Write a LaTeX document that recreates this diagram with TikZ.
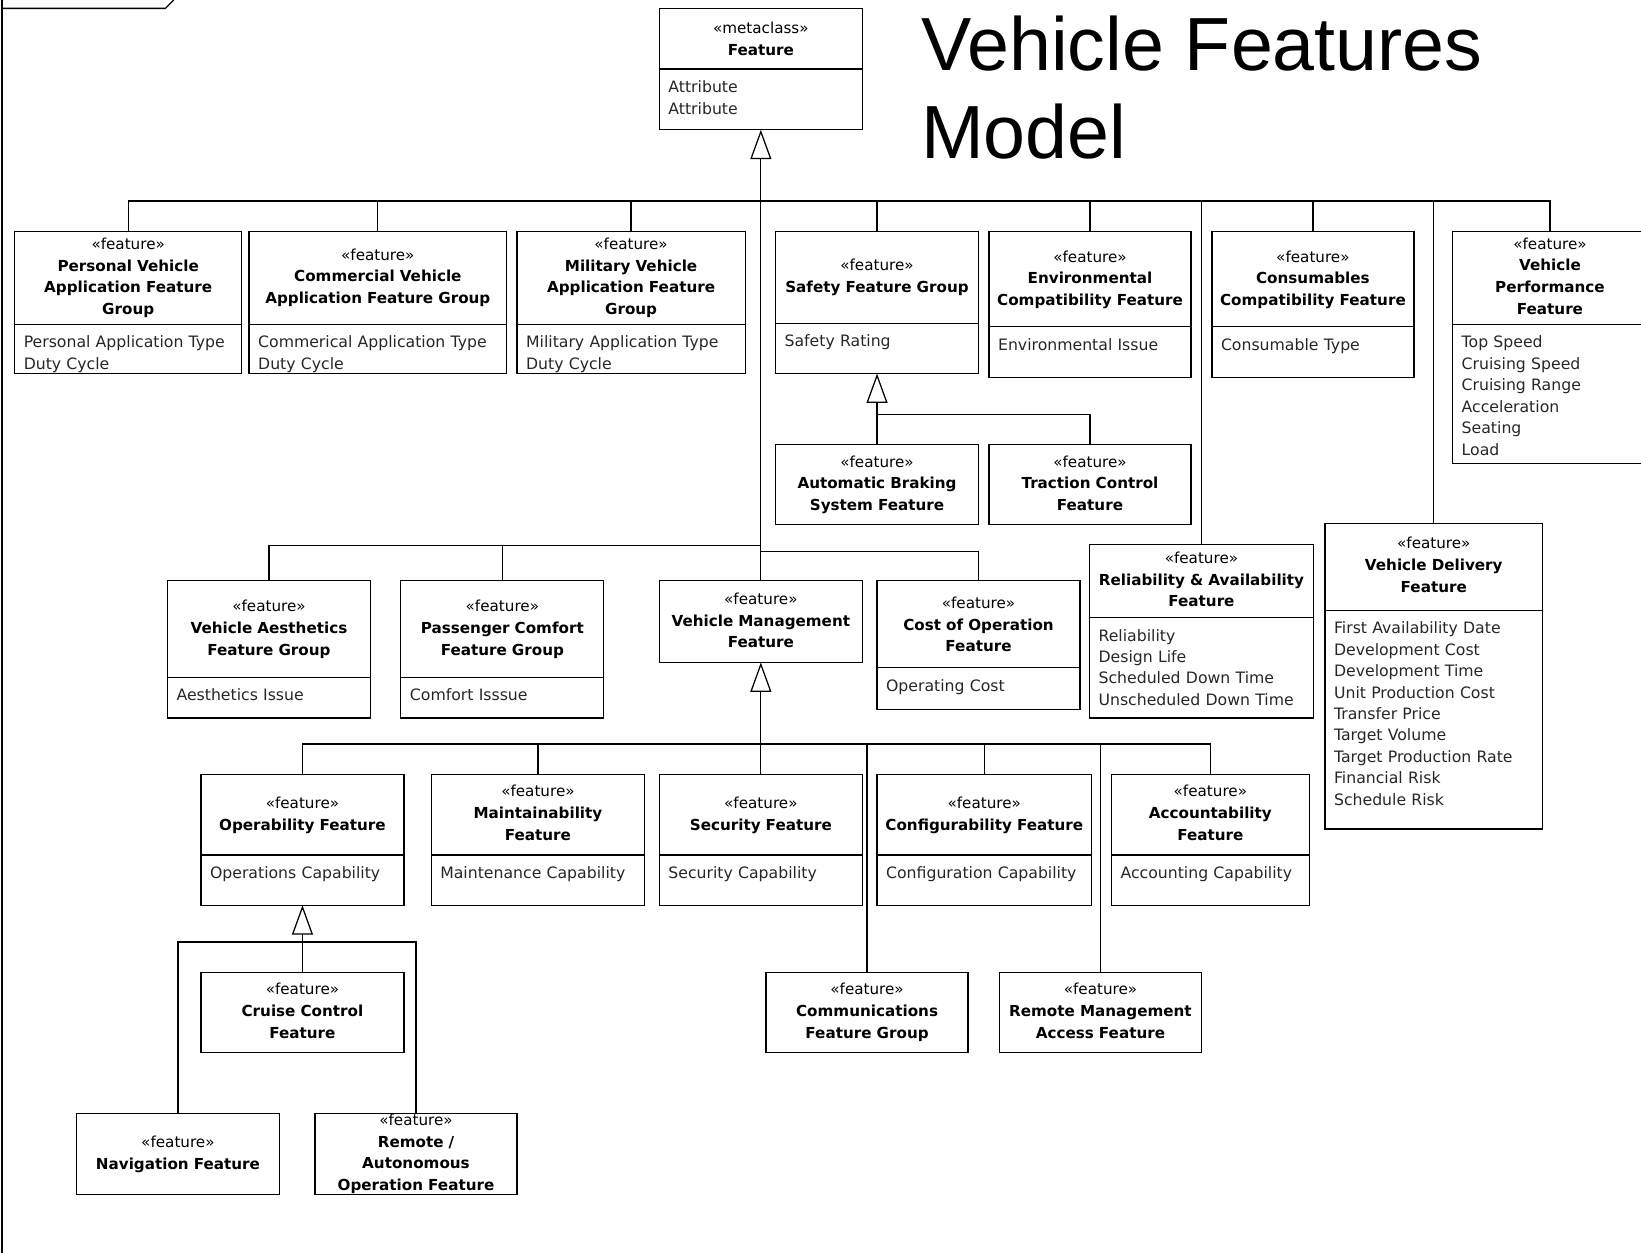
\documentclass[tikz,border=0pt]{standalone}
\usepackage{fontspec}
\setmainfont{DejaVu Sans}
\newfontfamily\titlefont{Liberation Sans}
\usetikzlibrary{arrows.meta}
\tikzset{
 cls/.style={draw, line width=1.2pt, inner sep=0pt, outer sep=0pt},
 con/.style={line width=1.2pt},
 gen/.style={con, -{Triangle[open,length=28pt,width=20pt]}},
 hdrst/.style={anchor=base, align=center, inner sep=0pt, font=\fontsize{14.5}{20.7}\selectfont},
 attrst/.style={anchor=base west, align=left, inner sep=0pt, font=\fontsize{15}{20.5}\selectfont, text=black!85},
 titlest/.style={anchor=base west, inner sep=0pt, font=\titlefont\fontsize{72}{84}\selectfont},
}
\newcommand\FF{«feature»\\}
% name, x1, y1, x2, y2, divider y, header baseline, header text, attribute text
\newcommand\umlcls[9]{%
  \pgfmathsetmacro\Ubw{#4-#2}%
  \pgfmathsetmacro\Ubh{#5-#3}%
  \pgfmathsetmacro\Utw{#4-#2-4}%
  \node[cls, minimum width=\Ubw pt, minimum height=\Ubh pt, anchor=north west] (#1) at (#2,#3) {};%
  \node[hdrst, text width=\Utw pt] (#1h) at (#1.north |- 0,#7) {#8};%
  \if\relax\detokenize{#6}\relax\else
    \draw[cls] (#2,#6) -- (#4,#6);%
    \pgfmathsetmacro\Uab{#6+22.5}%
    \pgfmathsetmacro\Uaw{#4-#2-12}%
    \node[attrst, text width=\Uaw pt] (#1a) at (#2+8.5,\Uab) {#9};%
  \fi}
\begin{document}
\begin{tikzpicture}[x=1pt,y=-1pt]
\useasboundingbox (0,0) rectangle (1568,1197);
% frame
\draw[con] (2,0) -- (2,1197);
\draw[con] (2,8) -- (158,8) -- (166,0);
% title
\node[titlest] (t1) at (880,67) {Vehicle Features};
\node[titlest] (t2) at (880,151) {Model};
% classes
\umlcls{feat}{630}{8}{824}{124}{66}{32}{«metaclass»\\\textbf{Feature}}{Attribute\\Attribute}
\umlcls{pva}{14}{221}{231}{357}{310}{238.5}{\FF\textbf{Personal Vehicle\\Application Feature\\Group}}{Personal Application Type\\Duty Cycle}
\umlcls{cva}{238}{221}{484}{357}{310}{248.5}{\FF\textbf{Commercial Vehicle\\Application Feature Group}}{Commerical Application Type\\Duty Cycle}
\umlcls{mva}{494}{221}{712}{357}{310}{238.5}{\FF\textbf{Military Vehicle\\Application Feature\\Group}}{Military Application Type\\Duty Cycle}
\umlcls{sfg}{741}{221}{935}{357}{309}{258.5}{\FF\textbf{Safety Feature Group}}{Safety Rating}
\umlcls{ecf}{945}{221}{1138}{361}{312}{250.5}{\FF\textbf{Environmental\\Compatibility Feature}}{Environmental Issue}
\umlcls{ccf}{1158}{221}{1351}{361}{312}{250.5}{\FF\textbf{Consumables\\Compatibility Feature}}{Consumable Type}
\umlcls{vpf}{1388}{221}{1574}{443}{310}{238}{\FF\textbf{Vehicle\\Performance\\Feature}}{Top Speed\\Cruising Speed\\Cruising Range\\Acceleration\\Seating\\Load}
\umlcls{abs}{741}{425}{935}{501}{}{446.5}{\FF\textbf{Automatic Braking\\System Feature}}{}
\umlcls{tcf}{945}{425}{1138}{501}{}{446.5}{\FF\textbf{Traction Control\\Feature}}{}
\umlcls{vafg}{160}{555}{354}{686}{647}{584.5}{\FF\textbf{Vehicle Aesthetics\\Feature Group}}{Aesthetics Issue}
\umlcls{pcfg}{383}{555}{577}{686}{647}{584.5}{\FF\textbf{Passenger Comfort\\Feature Group}}{Comfort Isssue}
\umlcls{vmf}{630}{555}{824}{633}{}{577.5}{\FF\textbf{Vehicle Management\\Feature}}{}
\umlcls{cof}{838}{555}{1032}{678}{638}{581.5}{\FF\textbf{Cost of Operation\\Feature}}{Operating Cost}
\umlcls{raf}{1041}{520}{1255}{686}{590}{538.5}{\FF\textbf{Reliability \& Availability\\Feature}}{Reliability\\Design Life\\Scheduled Down Time\\Unscheduled Down Time}
\umlcls{vdf}{1266}{500}{1474}{792}{583}{524.5}{\FF\textbf{Vehicle Delivery\\Feature}}{First Availability Date\\Development Cost\\Development Time\\Unit Production Cost\\Transfer Price\\Target Volume\\Target Production Rate\\Financial Risk\\Schedule Risk}
\umlcls{opf}{192}{740}{386}{865}{817}{772.5}{\FF\textbf{Operability Feature}}{Operations Capability}
\umlcls{maf}{412}{740}{616}{865}{817}{761.5}{\FF\textbf{Maintainability\\Feature}}{Maintenance Capability}
\umlcls{sef}{630}{740}{824}{865}{817}{772.5}{\FF\textbf{Security Feature}}{Security Capability}
\umlcls{cfg}{838}{740}{1043}{865}{817}{772.5}{\FF\textbf{Configurability Feature}}{Configuration Capability}
\umlcls{acf}{1062}{740}{1251}{865}{817}{761.5}{\FF\textbf{Accountability\\Feature}}{Accounting Capability}
\umlcls{cmfg}{732}{929}{925}{1006}{}{950.5}{\FF\textbf{Communications\\Feature Group}}{}
\umlcls{rmaf}{955}{929}{1148}{1006}{}{950.5}{\FF\textbf{Remote Management\\Access Feature}}{}
\umlcls{ccon}{192}{929}{386}{1006}{}{950.5}{\FF\textbf{Cruise Control\\Feature}}{}
\umlcls{nav}{73}{1064}{267}{1141}{}{1096.5}{\FF\textbf{Navigation Feature}}{}
\umlcls{raof}{301}{1064}{494}{1141}{}{1075.5}{\FF\textbf{Remote /\\Autonomous\\Operation Feature}}{}
% junction points
\coordinate (bus1) at (727,192);
\coordinate (bus2) at (727,521);
\coordinate (bus3) at (727,527);
\coordinate (sbus) at (838,396);
\coordinate (vbus) at (727,711);
\coordinate (obus) at (289,900);
% generalizations to Feature
\draw[gen] (vmf.north) -- (feat.south);
\foreach \n in {pva,cva,mva,sfg,ecf,ccf,vpf,raf,vdf}{\draw[con] (\n.north) |- (bus1);}
\foreach \n in {vafg,pcfg}{\draw[con] (\n.north) |- (bus2);}
\draw[con] (cof.north) |- (bus3);
% safety
\draw[gen] (abs.north) -- (sfg.south);
\draw[con] (tcf.north) |- (sbus);
% vehicle management
\draw[gen] (sef.north) -- (vmf.south);
\foreach \n in {opf,maf,cfg,acf,cmfg,rmaf}{\draw[con] (\n.north) |- (vbus);}
% operability
\draw[gen] (ccon.north) -- (opf.south);
\foreach \n in {nav,raof}{\draw[con] (\n.north) |- (obus);}
\end{tikzpicture}
\end{document}
